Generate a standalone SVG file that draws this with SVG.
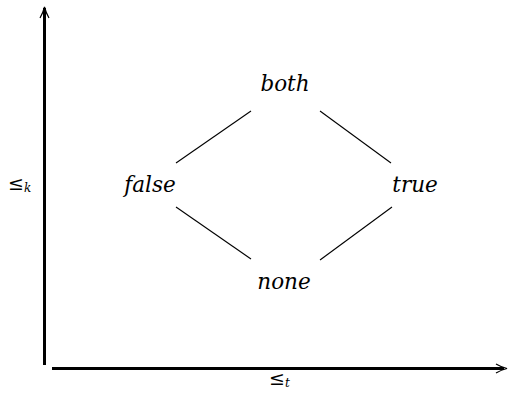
<svg xmlns="http://www.w3.org/2000/svg" width="508" height="396" viewBox="0 0 508 396">
<style>
.lbl{font-family:'DejaVu Serif',serif;font-style:italic;font-size:21.5px;fill:#000;text-anchor:middle}
.sub{font-family:'DejaVu Serif',serif;fill:#000}
.ax{stroke:#000;stroke-width:3;fill:none}
.ah{stroke:#000;stroke-width:1.2;fill:none}
.ed{stroke:#000;stroke-width:1.1;fill:none}
</style>
<g id="axes">
<line class="ax" x1="44.5" y1="8" x2="44.5" y2="365"/>
<path class="ah" d="M40,18 Q43,13 44.5,7 Q46,13 49,18"/>
<line class="ax" x1="52" y1="368.5" x2="504" y2="368.5"/>
<path class="ah" d="M496,364 Q501,367 507,368.5 Q501,370 496,373"/>
</g>
<g id="axis-labels">
<text class="sub" x="8" y="190" font-size="19">≤<tspan font-size="12" font-style="italic" dy="2">k</tspan></text>
<text class="sub" x="269" y="385" font-size="19">≤<tspan font-size="12" font-style="italic" dy="2">t</tspan></text>
</g>
<g id="connectors">
<line class="ed" x1="176" y1="163" x2="251" y2="111"/>
<line class="ed" x1="320" y1="111" x2="391" y2="163"/>
<line class="ed" x1="176" y1="207" x2="251" y2="259"/>
<line class="ed" x1="320" y1="260" x2="392" y2="207"/>
</g>
<g id="node-both"><text class="lbl" x="285" y="91">both</text></g>
<g id="node-false"><text class="lbl" x="150" y="192">false</text></g>
<g id="node-true"><text class="lbl" x="415" y="192">true</text></g>
<g id="node-none"><text class="lbl" x="284" y="289">none</text></g>
</svg>
